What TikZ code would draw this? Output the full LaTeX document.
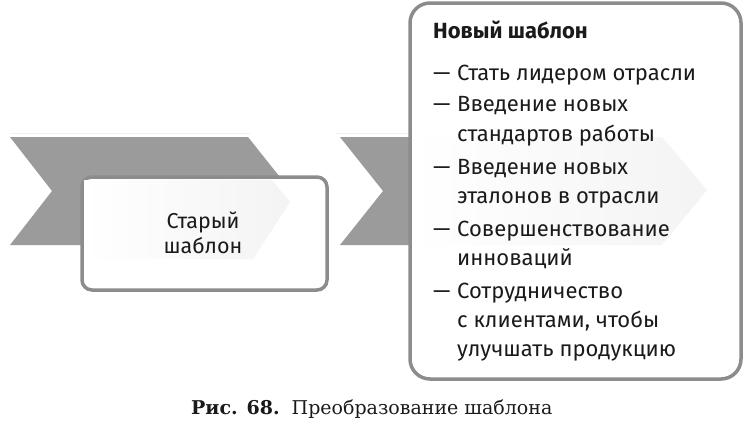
\documentclass[tikz,border=0pt]{standalone}
\usepackage{fontspec}
\setmainfont{Fira Sans}
\newfontfamily\capfont{DejaVu Serif}
\definecolor{chevgray}{HTML}{9B9B9B}
\definecolor{boxline}{HTML}{8C8C8C}
\definecolor{txt}{HTML}{1A1A1A}
\begin{document}
\begin{tikzpicture}[x=1pt,y=-1pt,
  chev/.style={fill=chevgray},
  shadowline/.style={draw=gray!12,line width=1pt},
  frame/.style={draw=boxline,line width=3.5pt,fill=white},
  glow/.style={left color=white,right color=gray!9},
  bodyfont/.style={font=\fontsize{22}{26}\selectfont},
  txtline/.style={anchor=base west,inner sep=0pt,text=txt,bodyfont},
  oldtxt/.style={anchor=base,inner sep=0pt,text=txt,font=\fontsize{21.5}{25}\selectfont}]
\useasboundingbox (0,0) rectangle (744,421);
% shadows above chevrons
\draw[shadowline] (10,133) -- (250,133);
\draw[shadowline] (336,133) -- (412,133);
% chevrons
\fill[chev] (10,137) -- (248,137) -- (291,191) -- (248,245) -- (10,245) -- (52,191) -- cycle;
\fill[chev] (340,137) -- (580,137) -- (623,191) -- (580,245) -- (340,245) -- (383,191) -- cycle;
% old template box
\draw[frame,rounded corners=10pt] (82,177) rectangle (327,290);
\shade[glow] (84,180) -- (272,180) -- (290,202) -- (253,259) -- (84,259) -- cycle;
\node[oldtxt] (old1) at (203,228) {Старый};
\node[oldtxt] (old2) at (203,253) {шаблон};
% new template box
\draw[frame,rounded corners=20pt] (410,3) rectangle (741,379);
\shade[glow] (412,137) -- (662,137) -- (707,190) -- (662,245) -- (412,245) -- cycle;
\node[txtline,font=\fontsize{22}{26}\selectfont\bfseries] (head) at (433,38) {Новый шаблон};
\node[txtline] (d1) at (433,80) {—};
\node[txtline] (i1) at (457,80) {Стать лидером отрасли};
\node[txtline] (d2) at (433,111) {—};
\node[txtline] (i2a) at (457,111) {Введение новых};
\node[txtline] (i2b) at (457,141) {стандартов работы};
\node[txtline] (d3) at (433,174) {—};
\node[txtline] (i3a) at (457,174) {Введение новых};
\node[txtline] (i3b) at (457,203) {эталонов в отрасли};
\node[txtline] (d4) at (433,236) {—};
\node[txtline] (i4a) at (457,236) {Совершенствование};
\node[txtline] (i4b) at (457,265) {инноваций};
\node[txtline] (d5) at (433,298) {—};
\node[txtline] (i5a) at (457,298) {Сотрудничество};
\node[txtline] (i5b) at (457,327) {с клиентами, чтобы};
\node[txtline] (i5c) at (457,356) {улучшать продукцию};
% caption
\node[anchor=base west,inner sep=0pt,text=txt,font=\capfont\fontsize{19}{22}\selectfont] (cap) at (191,414) {\textbf{Рис. 68.}\ \ Преобразование шаблона};
\end{tikzpicture}
\end{document}
